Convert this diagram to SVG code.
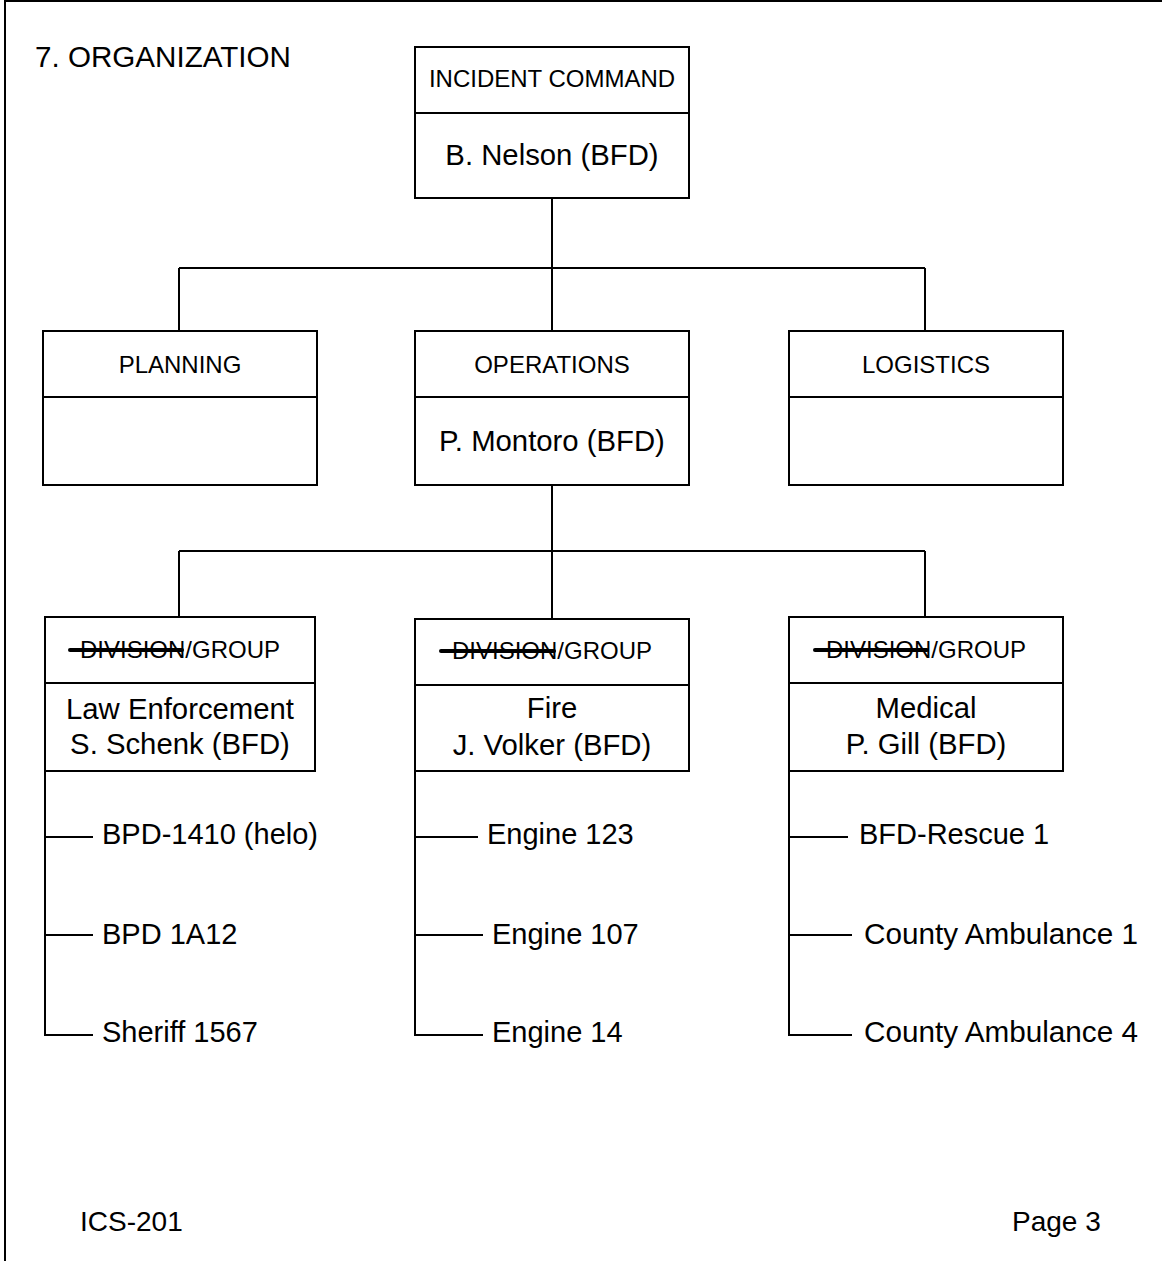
<svg xmlns="http://www.w3.org/2000/svg" width="1162" height="1261" viewBox="0 0 1162 1261">
<style>
.box{fill:#fff;stroke:#000;stroke-width:2}
.ln{fill:none;stroke:#000;stroke-width:2}
.strike{stroke:#000;stroke-width:4;stroke-linecap:round}
text{font-family:"Liberation Sans",Arial,sans-serif;fill:#000}
.hd{font-size:24px;text-anchor:middle}
.nm{font-size:29.3px;text-anchor:middle}
.it{font-size:29px}
.it2{font-size:29.7px}
.pg{font-size:28px}
.tt{font-size:29.6px}
</style>
<rect width="1162" height="1261" fill="#fff"/>
<path class="ln" d="M5 1262 V1 H1163"/>
<text class="tt" x="35" y="67">7. ORGANIZATION</text>
<g id="connectors">
<path class="ln" d="M552 198 V268 M179 268 H925 M179 268 V331 M925 268 V331 M552 268 V331"/>
<path class="ln" d="M552 485 V551 M179 551 H925 M179 551 V617 M925 551 V617 M552 551 V619"/>
<path class="ln" d="M45 771 V1035 H93 M45 837 H93 M45 935 H93"/>
<path class="ln" d="M415 771 V1035 H483 M415 837 H478 M415 935 H483"/>
<path class="ln" d="M789 771 V1035 H852 M789 837 H848 M789 935 H852"/>
</g>
<g id="incident-command">
<rect class="box" x="415" y="47" width="274" height="151"/>
<line class="ln" x1="415" y1="113" x2="689" y2="113"/>
<text class="hd" x="552" y="87">INCIDENT COMMAND</text>
<text class="nm" x="552" y="165">B. Nelson (BFD)</text>
</g>
<g id="planning">
<rect class="box" x="43" y="331" width="274" height="154"/>
<line class="ln" x1="43" y1="397" x2="317" y2="397"/>
<text class="hd" x="180" y="373">PLANNING</text>
</g>
<g id="operations">
<rect class="box" x="415" y="331" width="274" height="154"/>
<line class="ln" x1="415" y1="397" x2="689" y2="397"/>
<text class="hd" x="552" y="373">OPERATIONS</text>
<text class="nm" x="552" y="451">P. Montoro (BFD)</text>
</g>
<g id="logistics">
<rect class="box" x="789" y="331" width="274" height="154"/>
<line class="ln" x1="789" y1="397" x2="1063" y2="397"/>
<text class="hd" x="926" y="373">LOGISTICS</text>
</g>
<g id="group-law">
<rect class="box" x="45" y="617" width="270" height="154"/>
<line class="ln" x1="45" y1="683" x2="315" y2="683"/>
<text class="hd" x="180" y="658">DIVISION/GROUP</text>
<line class="strike" x1="70" y1="650" x2="182" y2="650"/>
<text class="nm" x="180" y="719">Law Enforcement</text>
<text class="nm" x="180" y="754">S. Schenk (BFD)</text>
</g>
<g id="group-fire">
<rect class="box" x="415" y="619" width="274" height="152"/>
<line class="ln" x1="415" y1="685" x2="689" y2="685"/>
<text class="hd" x="552" y="659">DIVISION/GROUP</text>
<line class="strike" x1="441" y1="651" x2="554" y2="651"/>
<text class="nm" x="552" y="718">Fire</text>
<text class="nm" x="552" y="755">J. Volker (BFD)</text>
</g>
<g id="group-medical">
<rect class="box" x="789" y="617" width="274" height="154"/>
<line class="ln" x1="789" y1="683" x2="1063" y2="683"/>
<text class="hd" x="926" y="658">DIVISION/GROUP</text>
<line class="strike" x1="815" y1="650" x2="927" y2="650"/>
<text class="nm" x="926" y="718">Medical</text>
<text class="nm" x="926" y="754">P. Gill (BFD)</text>
</g>
<g id="law-units">
<text class="it" x="102" y="844">BPD-1410 (helo)</text>
<text class="it" x="102" y="944">BPD 1A12</text>
<text class="it" x="102" y="1042">Sheriff 1567</text>
</g>
<g id="fire-units">
<text class="it" x="487" y="844">Engine 123</text>
<text class="it" x="492" y="944">Engine 107</text>
<text class="it" x="492" y="1042">Engine 14</text>
</g>
<g id="medical-units">
<text class="it" x="859" y="844">BFD-Rescue 1</text>
<text class="it2" x="864" y="944">County Ambulance 1</text>
<text class="it2" x="864" y="1042">County Ambulance 4</text>
</g>
<text class="pg" x="80" y="1231">ICS-201</text>
<text class="pg" x="1012" y="1231">Page 3</text>
</svg>
